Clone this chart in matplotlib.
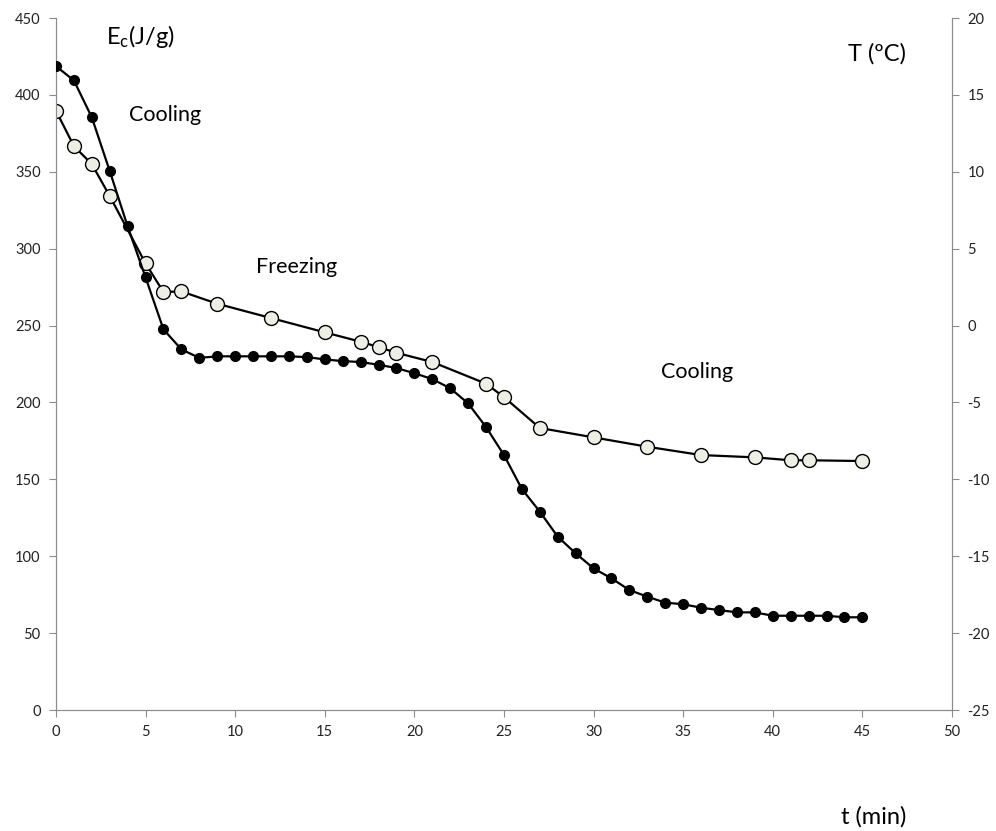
import matplotlib
matplotlib.use('Agg')
import matplotlib.pyplot as plt

plt.rcParams['font.family'] = ['Lato', 'DejaVu Sans']
plt.rcParams['mathtext.fontset'] = 'custom'
plt.rcParams['mathtext.rm'] = 'Lato'
plt.rcParams['mathtext.it'] = 'Lato'
plt.rcParams['axes.unicode_minus'] = False

# Energy (left axis, open circles)
t_ec = [0, 1, 2, 3, 5, 6, 7, 9, 12, 15, 17, 18, 19, 21, 24, 25, 27, 30, 33, 36, 39, 41, 42, 45]
ec = [389.7, 366.7, 355, 334.2, 290.4, 271.8, 272.2, 264.2, 254.9, 245.6, 239.5, 236, 232.3,
      226.3, 212.2, 203.5, 183.4, 177.3, 171.2, 165.8, 164.3, 162.4, 162.4, 161.9]

# Temperature (right axis, filled circles), one per minute
t_temp = list(range(46))
temp = [16.87, 15.94, 13.54, 10.05, 6.45, 3.13, -0.25, -1.55, -2.1, -2.0,
        -2.0, -2.0, -2.0, -2.0, -2.05, -2.2, -2.31, -2.37, -2.55, -2.76,
        -3.1, -3.48, -4.08, -5.06, -6.6, -8.42, -10.63, -12.1, -13.73, -14.81,
        -15.79, -16.44, -17.2, -17.63, -18.02, -18.12, -18.35, -18.5, -18.65, -18.65,
        -18.87, -18.87, -18.87, -18.87, -18.97, -18.97]

GRAY = '#8c8c8c'


def main():
    fig = plt.figure(figsize=(9.96, 8.31), dpi=100)
    ax = fig.add_axes([0.0562, 0.1456, 0.8996, 0.8327])
    ax2 = ax.twinx()

    ax.plot(t_ec, ec, color='black', lw=1.6, marker='o', ms=10,
            mfc='#eeeee4', mec='black', mew=1.0, zorder=3)
    ax2.plot(t_temp, temp, color='black', lw=1.6, marker='o', ms=7,
             mfc='black', mec='black', zorder=3)

    ax.set_xlim(0, 50)
    ax.set_ylim(0, 450)
    ax2.set_ylim(-25, 20)
    ax.set_xticks(range(0, 51, 5))
    ax.set_yticks(range(0, 451, 50))
    ax2.set_yticks(range(-25, 21, 5))

    for a in (ax, ax2):
        for s in a.spines.values():
            s.set_color(GRAY)
        a.spines['top'].set_visible(False)
        a.tick_params(colors=GRAY, labelcolor='#222222', labelsize=10.5, length=5)
    ax.tick_params(axis='x', pad=6)
    ax.tick_params(axis='y', pad=6)
    ax2.tick_params(axis='y', pad=6)

    # labels
    ax.text(4.7, 438, r'E$_\mathrm{c}$(J/g)', fontsize=17, ha='center', va='center')
    ax.text(45.8, 427, 'T (ºC)', fontsize=17, ha='center', va='center')
    ax.text(6.1, 387, 'Cooling', fontsize=15.5, ha='center', va='center')
    ax.text(13.45, 288, 'Freezing', fontsize=15.5, ha='center', va='center')
    ax.text(35.8, 220, 'Cooling', fontsize=15.5, ha='center', va='center')
    fig.text(874 / 996, 1 - 817 / 831, 't (min)', fontsize=17, ha='center', va='center')

    fig.savefig('out.png', dpi=100)


if __name__ == '__main__':
    main()
